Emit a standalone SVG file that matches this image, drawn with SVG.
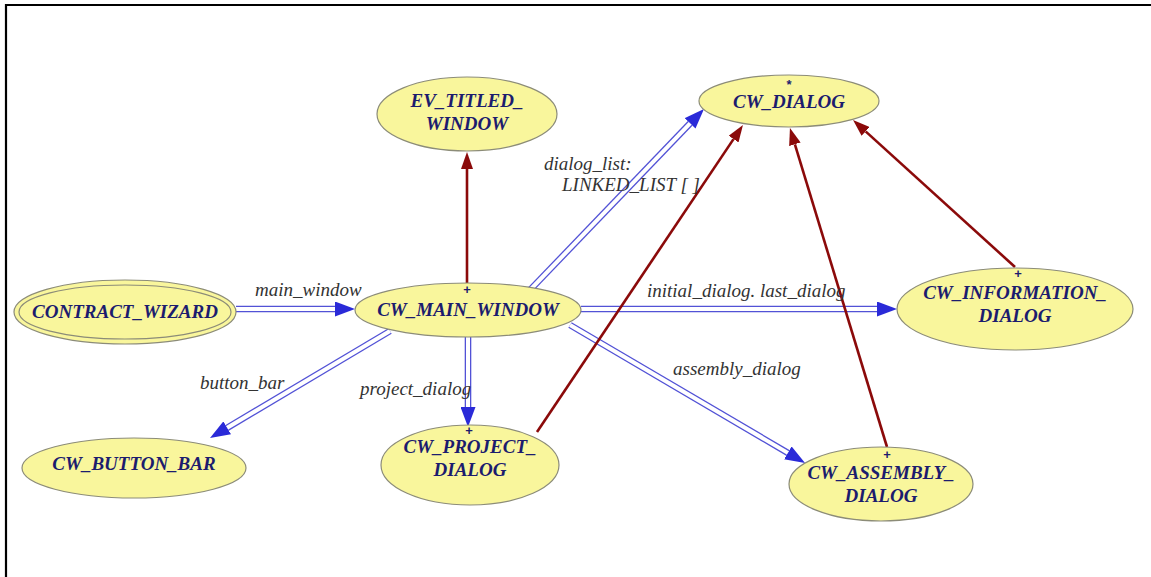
<svg xmlns="http://www.w3.org/2000/svg" width="1151" height="577" viewBox="0 0 1151 577">
<defs>
<style>
.node ellipse{fill:#f9f69c;stroke:#8c8c78;stroke-width:1.2}
.nt{font-family:"Liberation Serif","Times New Roman",serif;font-weight:bold;font-style:italic;font-size:19px;fill:#1c1c6e;text-anchor:middle}
.mk{font-family:"Liberation Sans",Arial,sans-serif;font-weight:bold;font-size:13px;fill:#1c1c6e;text-anchor:middle}
.el{font-family:"Liberation Serif","Times New Roman",serif;font-style:italic;font-size:19px;fill:#333333}
.bo{fill:none;stroke:#5252d6;stroke-width:6.6}
.bi{fill:none;stroke:#ffffff;stroke-width:4}
.red{fill:none;stroke:#8b0a0a;stroke-width:2.6}
</style>
<marker id="ba" viewBox="0 0 20 15" refX="0" refY="7.5" markerWidth="20" markerHeight="15" markerUnits="userSpaceOnUse" orient="auto"><path d="M0,0 L20,7.5 L0,15 Z" fill="#2a2ad8"/></marker>
<marker id="ra" viewBox="0 0 17 12" refX="0" refY="6" markerWidth="17" markerHeight="12" markerUnits="userSpaceOnUse" orient="auto"><path d="M0,0 L17,6 L0,12 Z" fill="#8b0a0a"/></marker>
</defs>
<rect x="0" y="0" width="1151" height="577" fill="#ffffff"/>
<path d="M6,577 L6,5 L1151,5" fill="none" stroke="#000000" stroke-width="2.2"/>

<g id="connectors">
<path class="bo" d="M236,309 L335,309" marker-end="url(#ba)"/><path class="bi" d="M236,309 L335,309"/>
<path class="bo" d="M581,309 L877,309" marker-end="url(#ba)"/><path class="bi" d="M581,309 L877,309"/>
<path class="bo" d="M530,290 L690.1,123.4" marker-end="url(#ba)"/><path class="bi" d="M530,290 L690.1,123.4"/>
<path class="bo" d="M390,331 L227.2,427.8" marker-end="url(#ba)"/><path class="bi" d="M390,331 L227.2,427.8"/>
<path class="bo" d="M468,337 L468,407" marker-end="url(#ba)"/><path class="bi" d="M468,337 L468,407"/>
<path class="bo" d="M570,325 L787.8,452.9" marker-end="url(#ba)"/><path class="bi" d="M570,325 L787.8,452.9"/>
<path class="red" d="M467,283 L467,169" marker-end="url(#ra)"/>
<path class="red" d="M537,432 L733.5,139.1" marker-end="url(#ra)"/>
<path class="red" d="M887,447 L794.9,144.3" marker-end="url(#ra)"/>
<path class="red" d="M1015,267 L865.6,131.4" marker-end="url(#ra)"/>
<text class="el" x="255" y="296">main_window</text>
<text class="el" x="544" y="170">dialog_list:</text>
<text class="el" x="562" y="191">LINKED_LIST [ ]</text>
<text class="el" x="647" y="297">initial_dialog. last_dialog</text>
<text class="el" x="200" y="389">button_bar</text>
<text class="el" x="360" y="395">project_dialog</text>
<text class="el" x="673" y="375">assembly_dialog</text>
</g>

<g id="CONTRACT_WIZARD" class="node">
<ellipse cx="125" cy="312" rx="111" ry="32"/>
<ellipse cx="125" cy="312" rx="106" ry="27"/>
<text class="nt" x="125" y="318">CONTRACT_WIZARD</text>
</g>
<g id="CW_MAIN_WINDOW" class="node">
<ellipse cx="468" cy="310" rx="113" ry="27"/>
<text class="mk" x="467" y="294">+</text>
<text class="nt" x="468" y="316">CW_MAIN_WINDOW</text>
</g>
<g id="EV_TITLED_WINDOW" class="node">
<ellipse cx="467" cy="114" rx="90" ry="37"/>
<text class="nt" x="467" y="107">EV_TITLED_</text>
<text class="nt" x="467" y="130">WINDOW</text>
</g>
<g id="CW_DIALOG" class="node">
<ellipse cx="789" cy="101" rx="90" ry="26"/>
<text class="mk" x="789" y="89">*</text>
<text class="nt" x="789" y="108">CW_DIALOG</text>
</g>
<g id="CW_INFORMATION_DIALOG" class="node">
<ellipse cx="1015" cy="309" rx="118" ry="41"/>
<text class="mk" x="1018" y="278">+</text>
<text class="nt" x="1015" y="299">CW_INFORMATION_</text>
<text class="nt" x="1015" y="322">DIALOG</text>
</g>
<g id="CW_BUTTON_BAR" class="node">
<ellipse cx="134" cy="468" rx="112" ry="30"/>
<text class="nt" x="134" y="470">CW_BUTTON_BAR</text>
</g>
<g id="CW_PROJECT_DIALOG" class="node">
<ellipse cx="470" cy="465" rx="89" ry="40"/>
<text class="mk" x="469" y="435">+</text>
<text class="nt" x="470" y="453">CW_PROJECT_</text>
<text class="nt" x="470" y="476">DIALOG</text>
</g>
<g id="CW_ASSEMBLY_DIALOG" class="node">
<ellipse cx="881" cy="484" rx="92" ry="37"/>
<text class="mk" x="887" y="459">+</text>
<text class="nt" x="881" y="479">CW_ASSEMBLY_</text>
<text class="nt" x="881" y="502">DIALOG</text>
</g>
</svg>
